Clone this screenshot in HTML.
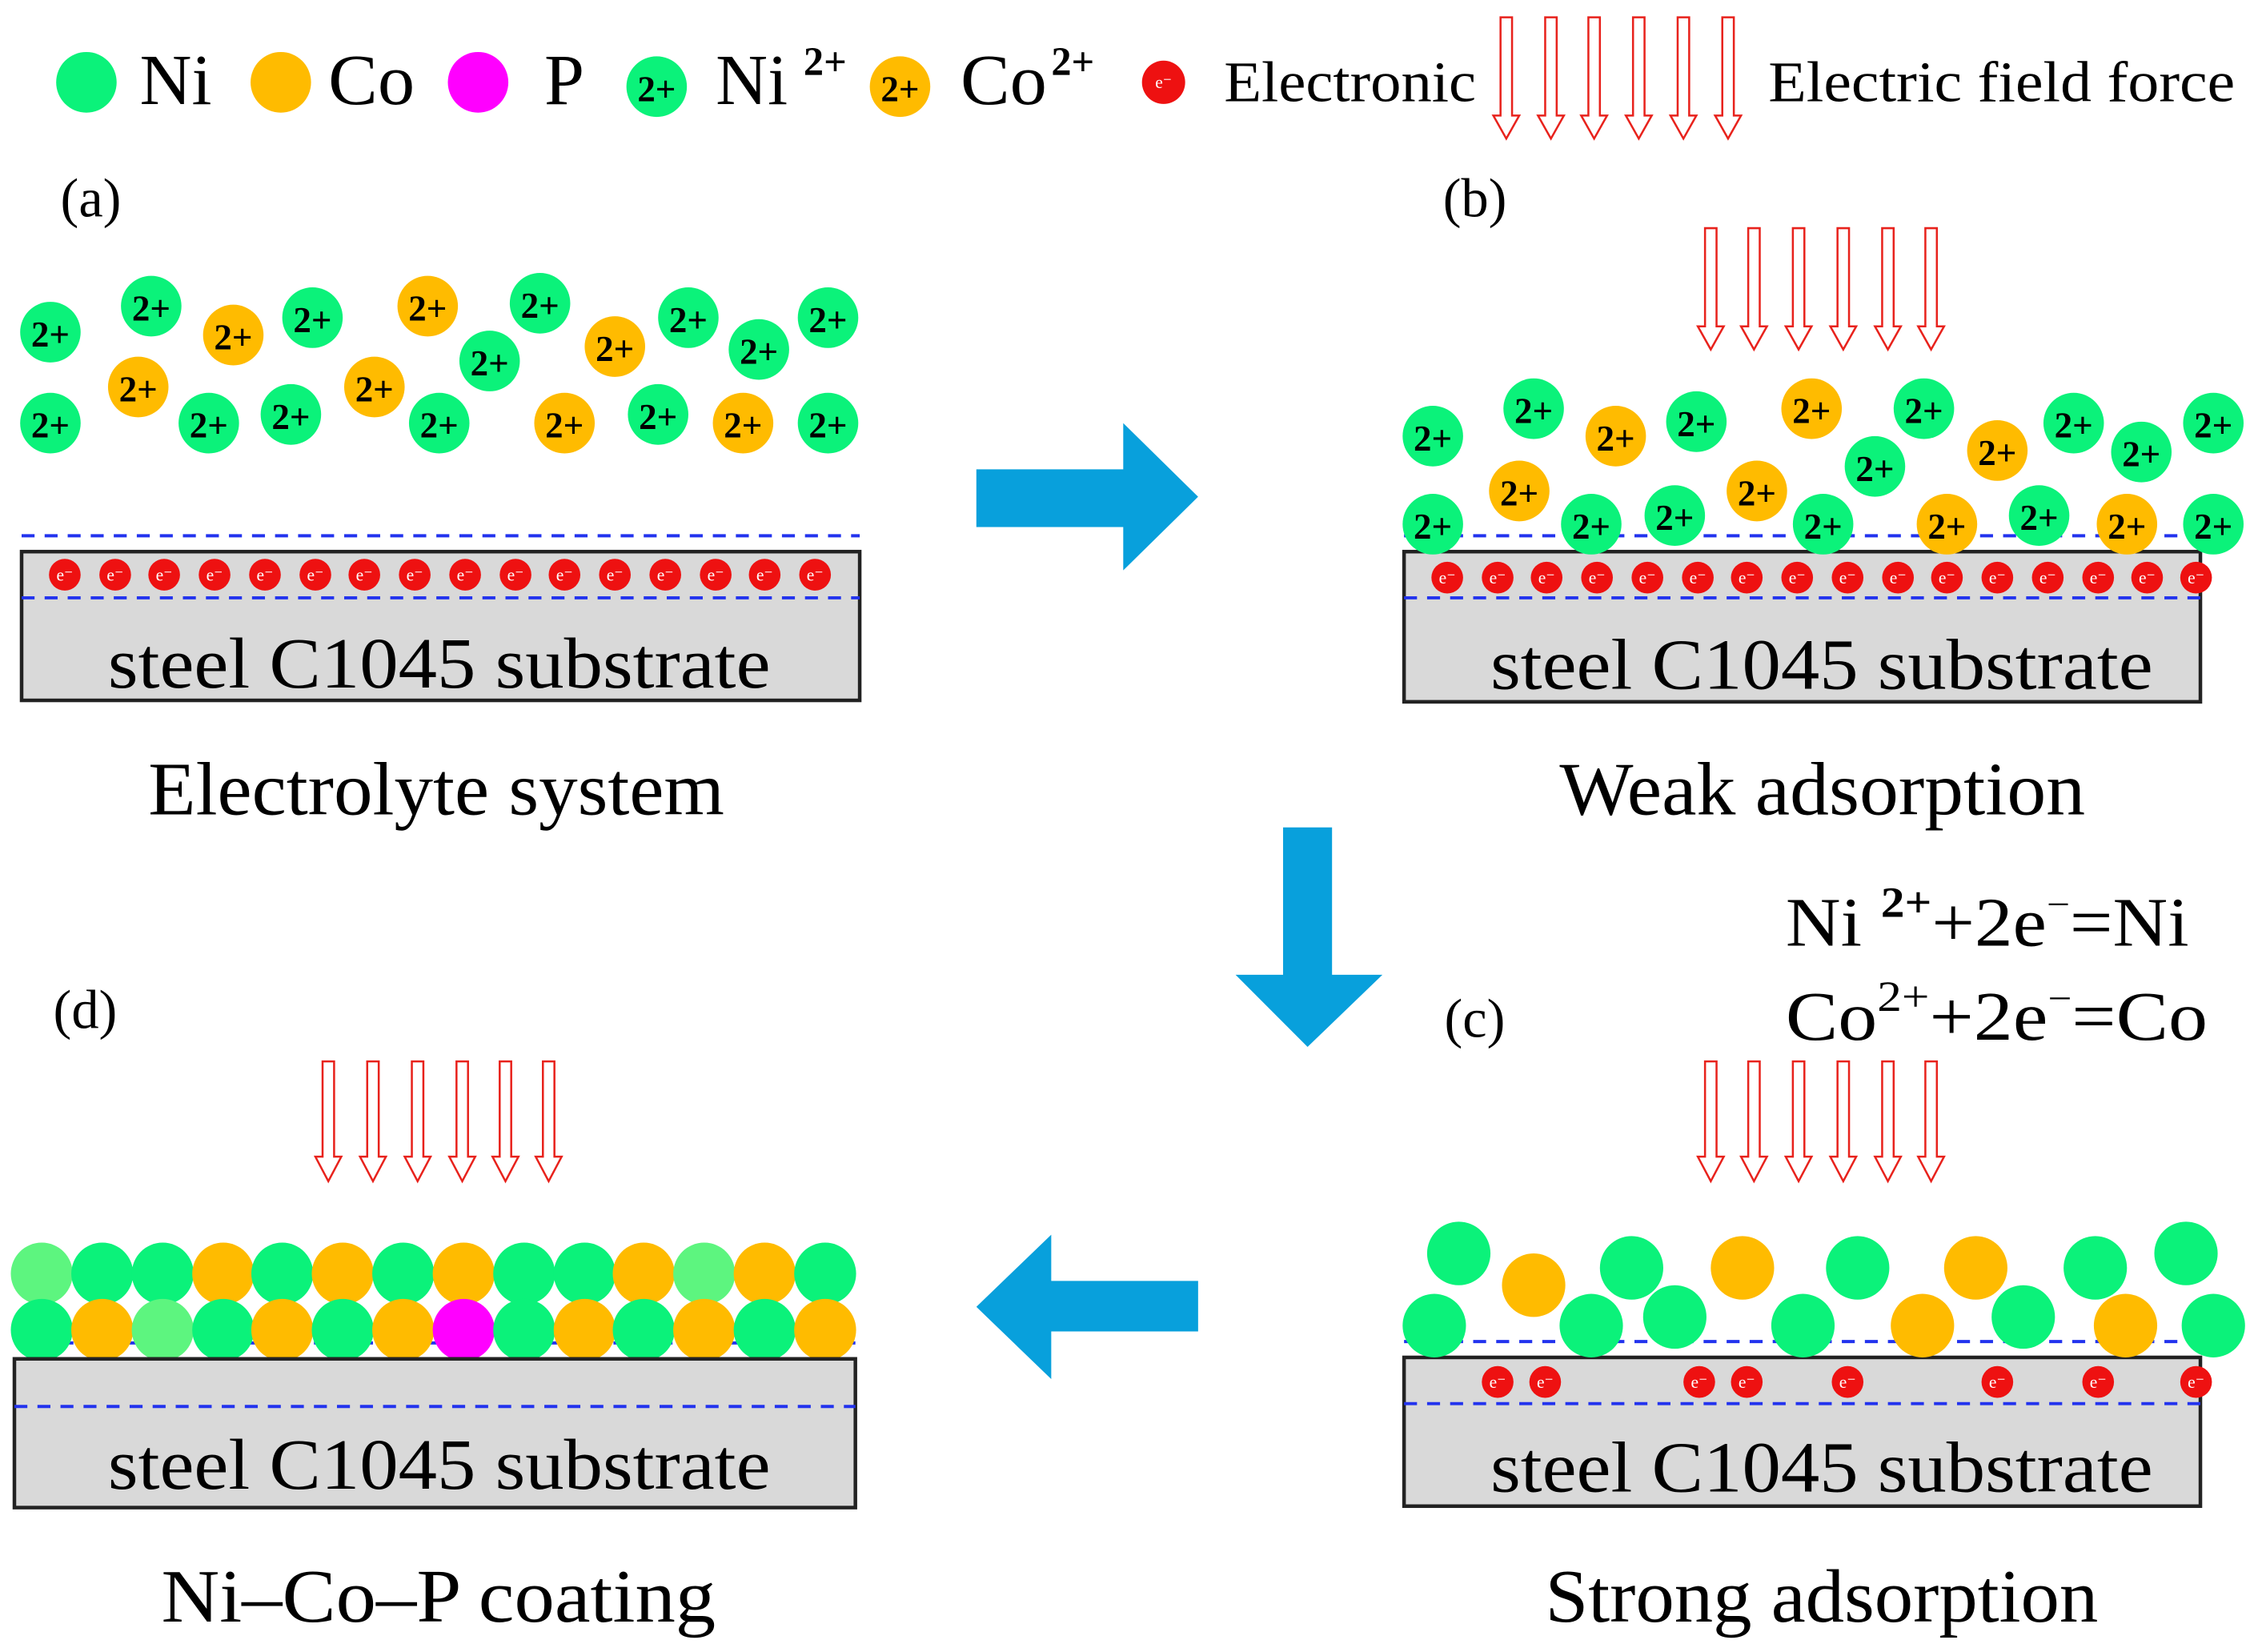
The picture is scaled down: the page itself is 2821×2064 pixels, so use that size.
<!DOCTYPE html>
<html><head><meta charset="utf-8"><style>
html,body{margin:0;padding:0;background:#fff;}
svg{display:block;}
svg text, svg tspan{font-family:"Liberation Serif","Times New Roman",serif !important;}
.ion{font-weight:bold;font-size:25px;text-anchor:middle;}
.el{font-size:12px;fill:#fff;text-anchor:middle;}
.sub{font-size:50px;}
.cap{font-size:52px;}
</style></head><body>
<svg width="2821" height="2064" viewBox="0 0 1568 1144" preserveAspectRatio="none" xmlns="http://www.w3.org/2000/svg" font-family="Liberation Serif, serif">
<style>
.g{fill:#0bf27a}.o{fill:#ffbb00}.lg{fill:#5df57f}.p{fill:#ff00ff}
.arr{fill:#fff;stroke:#e8221c;stroke-width:1.4}
.dash{stroke:#2233ee;stroke-width:2.2;stroke-dasharray:9,7}
.subr{fill:#d9d9d9;stroke:#222;stroke-width:2.5}
.blue{fill:#08a0dc}
</style>

<!-- Legend -->
<circle cx="60" cy="57" r="21" class="g"/><text x="97" y="72" font-size="50" textLength="50" lengthAdjust="spacingAndGlyphs">Ni</text>
<circle cx="195" cy="57" r="21" class="o"/><text x="228" y="72" font-size="50" textLength="60" lengthAdjust="spacingAndGlyphs">Co</text>
<circle cx="332" cy="57" r="21" class="p"/><text x="378" y="72" font-size="50">P</text>
<circle cx="456" cy="60" r="21" class="g"/><text x="456" y="70" class="ion">2+</text>
<text x="497" y="72" font-size="50" textLength="50" lengthAdjust="spacingAndGlyphs">Ni</text><text x="558" y="52" font-size="28" font-weight="bold">2+</text>
<circle cx="625" cy="60" r="21" class="o"/><text x="625" y="70" class="ion">2+</text>
<text x="667" y="72" font-size="50" textLength="60" lengthAdjust="spacingAndGlyphs">Co</text><text x="730" y="52" font-size="28" font-weight="bold">2+</text>
<circle cx="808" cy="57" r="15" fill="#ee1111"/><text x="808" y="61" class="el" font-size="14">e⁻</text>
<text x="850" y="70" font-size="40" textLength="175" lengthAdjust="spacingAndGlyphs">Electronic</text>
<g class="arr">
<path d="M1042,12 h8 v68 h5 l-9,16 l-9,-16 h5 z"/>
<path d="M1073,12 h8 v68 h5 l-9,16 l-9,-16 h5 z"/>
<path d="M1103,12 h8 v68 h5 l-9,16 l-9,-16 h5 z"/>
<path d="M1134,12 h8 v68 h5 l-9,16 l-9,-16 h5 z"/>
<path d="M1165,12 h8 v68 h5 l-9,16 l-9,-16 h5 z"/>
<path d="M1196,12 h8 v68 h5 l-9,16 l-9,-16 h5 z"/>
</g>
<text x="1228" y="70" font-size="40" textLength="324" lengthAdjust="spacingAndGlyphs">Electric field force</text>

<!-- Panel labels -->
<text x="42" y="150" font-size="38">(a)</text>
<text x="1002" y="150" font-size="38">(b)</text>
<text x="1003" y="718" font-size="38">(c)</text>
<text x="37" y="712" font-size="38">(d)</text>

<!-- Panel (a) -->
<g>
<circle cx="35" cy="230" r="21" class="g"/><text x="35" y="240" class="ion">2+</text>
<circle cx="105" cy="212" r="21" class="g"/><text x="105" y="222" class="ion">2+</text>
<circle cx="162" cy="232" r="21" class="o"/><text x="162" y="242" class="ion">2+</text>
<circle cx="217" cy="220" r="21" class="g"/><text x="217" y="230" class="ion">2+</text>
<circle cx="297" cy="212" r="21" class="o"/><text x="297" y="222" class="ion">2+</text>
<circle cx="375" cy="210" r="21" class="g"/><text x="375" y="220" class="ion">2+</text>
<circle cx="96" cy="268" r="21" class="o"/><text x="96" y="278" class="ion">2+</text>
<circle cx="260" cy="268" r="21" class="o"/><text x="260" y="278" class="ion">2+</text>
<circle cx="340" cy="250" r="21" class="g"/><text x="340" y="260" class="ion">2+</text>
<circle cx="427" cy="240" r="21" class="o"/><text x="427" y="250" class="ion">2+</text>
<circle cx="478" cy="220" r="21" class="g"/><text x="478" y="230" class="ion">2+</text>
<circle cx="527" cy="242" r="21" class="g"/><text x="527" y="252" class="ion">2+</text>
<circle cx="575" cy="220" r="21" class="g"/><text x="575" y="230" class="ion">2+</text>
<circle cx="35" cy="293" r="21" class="g"/><text x="35" y="303" class="ion">2+</text>
<circle cx="145" cy="293" r="21" class="g"/><text x="145" y="303" class="ion">2+</text>
<circle cx="202" cy="287" r="21" class="g"/><text x="202" y="297" class="ion">2+</text>
<circle cx="305" cy="293" r="21" class="g"/><text x="305" y="303" class="ion">2+</text>
<circle cx="392" cy="293" r="21" class="o"/><text x="392" y="303" class="ion">2+</text>
<circle cx="457" cy="287" r="21" class="g"/><text x="457" y="297" class="ion">2+</text>
<circle cx="516" cy="293" r="21" class="o"/><text x="516" y="303" class="ion">2+</text>
<circle cx="575" cy="293" r="21" class="g"/><text x="575" y="303" class="ion">2+</text>
</g>
<line x1="15" y1="371" x2="597" y2="371" class="dash"/>
<rect x="15" y="382" width="582" height="103" class="subr"/>
<line x1="15" y1="414" x2="597" y2="414" class="dash"/>
<g>
<circle cx="45" cy="398" r="11" fill="#ee1111"/><text x="45" y="402" class="el">e⁻</text>
<circle cx="80" cy="398" r="11" fill="#ee1111"/><text x="80" y="402" class="el">e⁻</text>
<circle cx="114" cy="398" r="11" fill="#ee1111"/><text x="114" y="402" class="el">e⁻</text>
<circle cx="149" cy="398" r="11" fill="#ee1111"/><text x="149" y="402" class="el">e⁻</text>
<circle cx="184" cy="398" r="11" fill="#ee1111"/><text x="184" y="402" class="el">e⁻</text>
<circle cx="219" cy="398" r="11" fill="#ee1111"/><text x="219" y="402" class="el">e⁻</text>
<circle cx="253" cy="398" r="11" fill="#ee1111"/><text x="253" y="402" class="el">e⁻</text>
<circle cx="288" cy="398" r="11" fill="#ee1111"/><text x="288" y="402" class="el">e⁻</text>
<circle cx="323" cy="398" r="11" fill="#ee1111"/><text x="323" y="402" class="el">e⁻</text>
<circle cx="358" cy="398" r="11" fill="#ee1111"/><text x="358" y="402" class="el">e⁻</text>
<circle cx="392" cy="398" r="11" fill="#ee1111"/><text x="392" y="402" class="el">e⁻</text>
<circle cx="427" cy="398" r="11" fill="#ee1111"/><text x="427" y="402" class="el">e⁻</text>
<circle cx="462" cy="398" r="11" fill="#ee1111"/><text x="462" y="402" class="el">e⁻</text>
<circle cx="497" cy="398" r="11" fill="#ee1111"/><text x="497" y="402" class="el">e⁻</text>
<circle cx="531" cy="398" r="11" fill="#ee1111"/><text x="531" y="402" class="el">e⁻</text>
<circle cx="566" cy="398" r="11" fill="#ee1111"/><text x="566" y="402" class="el">e⁻</text>
</g>
<text x="75" y="476" class="sub" textLength="460" lengthAdjust="spacingAndGlyphs">steel C1045 substrate</text>
<text x="103" y="564" class="cap" textLength="400" lengthAdjust="spacingAndGlyphs">Electrolyte system</text>

<!-- Panel (b) -->
<g class="arr">
<path d="M1184,158 h8 v68 h5 l-9,16 l-9,-16 h5 z"/>
<path d="M1214,158 h8 v68 h5 l-9,16 l-9,-16 h5 z"/>
<path d="M1245,158 h8 v68 h5 l-9,16 l-9,-16 h5 z"/>
<path d="M1276,158 h8 v68 h5 l-9,16 l-9,-16 h5 z"/>
<path d="M1307,158 h8 v68 h5 l-9,16 l-9,-16 h5 z"/>
<path d="M1337,158 h8 v68 h5 l-9,16 l-9,-16 h5 z"/>
</g>
<line x1="975" y1="371" x2="1528" y2="371" class="dash"/>
<rect x="975" y="382" width="553" height="104" class="subr"/>
<line x1="975" y1="414" x2="1528" y2="414" class="dash"/>
<g>
<circle cx="995" cy="302" r="21" class="g"/><text x="995" y="312" class="ion">2+</text>
<circle cx="1065" cy="283" r="21" class="g"/><text x="1065" y="293" class="ion">2+</text>
<circle cx="1122" cy="302" r="21" class="o"/><text x="1122" y="312" class="ion">2+</text>
<circle cx="1178" cy="292" r="21" class="g"/><text x="1178" y="302" class="ion">2+</text>
<circle cx="1258" cy="283" r="21" class="o"/><text x="1258" y="293" class="ion">2+</text>
<circle cx="1336" cy="283" r="21" class="g"/><text x="1336" y="293" class="ion">2+</text>
<circle cx="1055" cy="340" r="21" class="o"/><text x="1055" y="350" class="ion">2+</text>
<circle cx="1220" cy="340" r="21" class="o"/><text x="1220" y="350" class="ion">2+</text>
<circle cx="1302" cy="323" r="21" class="g"/><text x="1302" y="333" class="ion">2+</text>
<circle cx="1387" cy="312" r="21" class="o"/><text x="1387" y="322" class="ion">2+</text>
<circle cx="1440" cy="293" r="21" class="g"/><text x="1440" y="303" class="ion">2+</text>
<circle cx="1487" cy="313" r="21" class="g"/><text x="1487" y="323" class="ion">2+</text>
<circle cx="1537" cy="293" r="21" class="g"/><text x="1537" y="303" class="ion">2+</text>
<circle cx="995" cy="363" r="21" class="g"/><text x="995" y="373" class="ion">2+</text>
<circle cx="1105" cy="363" r="21" class="g"/><text x="1105" y="373" class="ion">2+</text>
<circle cx="1163" cy="357" r="21" class="g"/><text x="1163" y="367" class="ion">2+</text>
<circle cx="1266" cy="363" r="21" class="g"/><text x="1266" y="373" class="ion">2+</text>
<circle cx="1352" cy="363" r="21" class="o"/><text x="1352" y="373" class="ion">2+</text>
<circle cx="1416" cy="357" r="21" class="g"/><text x="1416" y="367" class="ion">2+</text>
<circle cx="1477" cy="363" r="21" class="o"/><text x="1477" y="373" class="ion">2+</text>
<circle cx="1537" cy="363" r="21" class="g"/><text x="1537" y="373" class="ion">2+</text>
</g>
<g>
<circle cx="1005" cy="400" r="11" fill="#ee1111"/><text x="1005" y="404" class="el">e⁻</text>
<circle cx="1040" cy="400" r="11" fill="#ee1111"/><text x="1040" y="404" class="el">e⁻</text>
<circle cx="1074" cy="400" r="11" fill="#ee1111"/><text x="1074" y="404" class="el">e⁻</text>
<circle cx="1109" cy="400" r="11" fill="#ee1111"/><text x="1109" y="404" class="el">e⁻</text>
<circle cx="1144" cy="400" r="11" fill="#ee1111"/><text x="1144" y="404" class="el">e⁻</text>
<circle cx="1179" cy="400" r="11" fill="#ee1111"/><text x="1179" y="404" class="el">e⁻</text>
<circle cx="1213" cy="400" r="11" fill="#ee1111"/><text x="1213" y="404" class="el">e⁻</text>
<circle cx="1248" cy="400" r="11" fill="#ee1111"/><text x="1248" y="404" class="el">e⁻</text>
<circle cx="1283" cy="400" r="11" fill="#ee1111"/><text x="1283" y="404" class="el">e⁻</text>
<circle cx="1318" cy="400" r="11" fill="#ee1111"/><text x="1318" y="404" class="el">e⁻</text>
<circle cx="1352" cy="400" r="11" fill="#ee1111"/><text x="1352" y="404" class="el">e⁻</text>
<circle cx="1387" cy="400" r="11" fill="#ee1111"/><text x="1387" y="404" class="el">e⁻</text>
<circle cx="1422" cy="400" r="11" fill="#ee1111"/><text x="1422" y="404" class="el">e⁻</text>
<circle cx="1457" cy="400" r="11" fill="#ee1111"/><text x="1457" y="404" class="el">e⁻</text>
<circle cx="1491" cy="400" r="11" fill="#ee1111"/><text x="1491" y="404" class="el">e⁻</text>
<circle cx="1525" cy="400" r="11" fill="#ee1111"/><text x="1525" y="404" class="el">e⁻</text>
</g>
<text x="1035" y="477" class="sub" textLength="460" lengthAdjust="spacingAndGlyphs">steel C1045 substrate</text>
<text x="1083" y="564" class="cap" textLength="365" lengthAdjust="spacingAndGlyphs">Weak adsorption</text>

<!-- Blue arrows -->
<path class="blue" d="M678,325 H780 V293 L832,344 L780,395 V365 H678 Z"/>
<path class="blue" d="M891,573 H925 V675 H960 L908,725 L858,675 H891 Z"/>
<path class="blue" d="M832,887 H730 V855 L678,905 L730,955 V922 H832 Z"/>

<!-- Equations -->
<text x="1240" y="655" font-size="48" textLength="280" lengthAdjust="spacingAndGlyphs">Ni <tspan font-size="30" font-weight="bold" dy="-20">2+</tspan><tspan dy="20">+2e</tspan><tspan font-size="26" dy="-20">−</tspan><tspan dy="20">=Ni</tspan></text>
<text x="1240" y="720" font-size="48" textLength="293" lengthAdjust="spacingAndGlyphs">Co<tspan font-size="30" dy="-20">2+</tspan><tspan dy="20">+2e</tspan><tspan font-size="26" dy="-20">−</tspan><tspan dy="20">=Co</tspan></text>

<!-- Panel (c) -->
<g class="arr">
<path d="M1184,735 h8 v66 h5 l-9,17 l-9,-17 h5 z"/>
<path d="M1214,735 h8 v66 h5 l-9,17 l-9,-17 h5 z"/>
<path d="M1245,735 h8 v66 h5 l-9,17 l-9,-17 h5 z"/>
<path d="M1276,735 h8 v66 h5 l-9,17 l-9,-17 h5 z"/>
<path d="M1307,735 h8 v66 h5 l-9,17 l-9,-17 h5 z"/>
<path d="M1337,735 h8 v66 h5 l-9,17 l-9,-17 h5 z"/>
</g>
<line x1="975" y1="929" x2="1528" y2="929" class="dash"/>
<rect x="975" y="940" width="553" height="103" class="subr"/>
<line x1="975" y1="972" x2="1528" y2="972" class="dash"/>
<g>
<circle cx="1013" cy="868" r="22" class="g"/>
<circle cx="1065" cy="890" r="22" class="o"/>
<circle cx="1133" cy="878" r="22" class="g"/>
<circle cx="1210" cy="878" r="22" class="o"/>
<circle cx="1290" cy="878" r="22" class="g"/>
<circle cx="1372" cy="878" r="22" class="o"/>
<circle cx="1455" cy="878" r="22" class="g"/>
<circle cx="1518" cy="868" r="22" class="g"/>
<circle cx="996" cy="918" r="22" class="g"/>
<circle cx="1105" cy="918" r="22" class="g"/>
<circle cx="1163" cy="912" r="22" class="g"/>
<circle cx="1252" cy="918" r="22" class="g"/>
<circle cx="1335" cy="918" r="22" class="o"/>
<circle cx="1405" cy="912" r="22" class="g"/>
<circle cx="1476" cy="918" r="22" class="o"/>
<circle cx="1537" cy="918" r="22" class="g"/>
</g>
<g>
<circle cx="1040" cy="957" r="11" fill="#ee1111"/><text x="1040" y="961" class="el">e⁻</text>
<circle cx="1073" cy="957" r="11" fill="#ee1111"/><text x="1073" y="961" class="el">e⁻</text>
<circle cx="1180" cy="957" r="11" fill="#ee1111"/><text x="1180" y="961" class="el">e⁻</text>
<circle cx="1213" cy="957" r="11" fill="#ee1111"/><text x="1213" y="961" class="el">e⁻</text>
<circle cx="1283" cy="957" r="11" fill="#ee1111"/><text x="1283" y="961" class="el">e⁻</text>
<circle cx="1387" cy="957" r="11" fill="#ee1111"/><text x="1387" y="961" class="el">e⁻</text>
<circle cx="1457" cy="957" r="11" fill="#ee1111"/><text x="1457" y="961" class="el">e⁻</text>
<circle cx="1525" cy="957" r="11" fill="#ee1111"/><text x="1525" y="961" class="el">e⁻</text>
</g>
<text x="1035" y="1033" class="sub" textLength="460" lengthAdjust="spacingAndGlyphs">steel C1045 substrate</text>
<text x="1073" y="1123" class="cap" textLength="384" lengthAdjust="spacingAndGlyphs">Strong adsorption</text>

<!-- Panel (d) -->
<g class="arr">
<path d="M224,735 h8 v66 h5 l-9,17 l-9,-17 h5 z"/>
<path d="M255,735 h8 v66 h5 l-9,17 l-9,-17 h5 z"/>
<path d="M286,735 h8 v66 h5 l-9,17 l-9,-17 h5 z"/>
<path d="M317,735 h8 v66 h5 l-9,17 l-9,-17 h5 z"/>
<path d="M347,735 h8 v66 h5 l-9,17 l-9,-17 h5 z"/>
<path d="M377,735 h8 v66 h5 l-9,17 l-9,-17 h5 z"/>
</g>
<line x1="10" y1="930" x2="594" y2="930" class="dash"/>
<g>
<circle cx="29" cy="882" r="21.5" class="lg"/>
<circle cx="71" cy="882" r="21.5" class="g"/>
<circle cx="113" cy="882" r="21.5" class="g"/>
<circle cx="155" cy="882" r="21.5" class="o"/>
<circle cx="196" cy="882" r="21.5" class="g"/>
<circle cx="238" cy="882" r="21.5" class="o"/>
<circle cx="280" cy="882" r="21.5" class="g"/>
<circle cx="322" cy="882" r="21.5" class="o"/>
<circle cx="364" cy="882" r="21.5" class="g"/>
<circle cx="406" cy="882" r="21.5" class="g"/>
<circle cx="447" cy="882" r="21.5" class="o"/>
<circle cx="489" cy="882" r="21.5" class="lg"/>
<circle cx="531" cy="882" r="21.5" class="o"/>
<circle cx="573" cy="882" r="21.5" class="g"/>
<circle cx="29" cy="921" r="21.5" class="g"/>
<circle cx="71" cy="921" r="21.5" class="o"/>
<circle cx="113" cy="921" r="21.5" class="lg"/>
<circle cx="155" cy="921" r="21.5" class="g"/>
<circle cx="196" cy="921" r="21.5" class="o"/>
<circle cx="238" cy="921" r="21.5" class="g"/>
<circle cx="280" cy="921" r="21.5" class="o"/>
<circle cx="322" cy="921" r="21.5" class="p"/>
<circle cx="364" cy="921" r="21.5" class="g"/>
<circle cx="406" cy="921" r="21.5" class="o"/>
<circle cx="447" cy="921" r="21.5" class="g"/>
<circle cx="489" cy="921" r="21.5" class="o"/>
<circle cx="531" cy="921" r="21.5" class="g"/>
<circle cx="573" cy="921" r="21.5" class="o"/>
</g>
<rect x="10" y="941" width="584" height="103" class="subr"/>
<line x1="10" y1="974" x2="594" y2="974" class="dash"/>
<text x="75" y="1031" class="sub" textLength="460" lengthAdjust="spacingAndGlyphs">steel C1045 substrate</text>
<text x="112" y="1123" class="cap" textLength="385" lengthAdjust="spacingAndGlyphs">Ni–Co–P coating</text>
</svg>
</body></html>
